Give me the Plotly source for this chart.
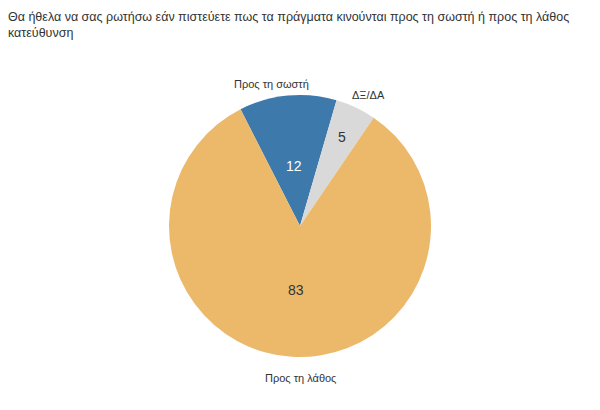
import math
import plotly.graph_objects as go

labels = ["Προς τη σωστή", "ΔΞ/ΔΑ", "Προς τη λάθος"]
values = [12, 5, 83]
colors = ["#3d7aab", "#d9d9d9", "#ecb96b"]
value_text_colors = ["#ffffff", "#333333", "#333333"]

title = ("Θα ήθελα να σας ρωτήσω εάν πιστεύετε πως τα πράγματα κινούνται προς τη σωστή ή προς τη λάθος"
         "<br>κατεύθυνση")

FONT = "Liberation Sans, Arial, sans-serif"
ROTATION = -27                 # start angle of first slice (deg, clockwise from 12 o'clock)
LABEL_R = [145, 148, 152]      # px from centre for category labels
LABEL_DA = [-5.8, 2.2, -3.6]   # angular nudge of category labels (deg)
VALUE_R = [60, 98, 64]         # px from centre for value labels

fig = go.Figure()
fig.add_trace(go.Pie(
    labels=labels, values=values, sort=False, direction="clockwise", rotation=ROTATION,
    domain=dict(x=[0, 1], y=[0, 1]),
    marker=dict(colors=colors, line=dict(width=0)),
    textinfo="none", hoverinfo="label+value", showlegend=False,
))

total = sum(values)
cum = 0
for lab, val, tc, lr, da, vr in zip(labels, values, value_text_colors, LABEL_R, LABEL_DA, VALUE_R):
    mid_deg = ROTATION + 360 * (cum + val / 2) / total
    cum += val
    mid = math.radians(mid_deg)
    la = math.radians(mid_deg + da)
    fig.add_annotation(x=0.5, y=0.5, xref="paper", yref="paper", showarrow=False,
                       text=lab, xshift=lr * math.sin(la), yshift=lr * math.cos(la),
                       font=dict(size=11, color="#333333", family=FONT))
    fig.add_annotation(x=0.5, y=0.5, xref="paper", yref="paper", showarrow=False,
                       text=str(val), xshift=vr * math.sin(mid), yshift=vr * math.cos(mid),
                       font=dict(size=14, color=tc, family=FONT))

fig.update_layout(
    width=600, height=410,
    margin=dict(l=0, r=16, t=87, b=61),
    paper_bgcolor="white", plot_bgcolor="white",
    title=dict(text=title, x=0.0, xanchor="left", y=0.969, yanchor="middle",
               font=dict(size=12.5, color="#333333", family=FONT)),
    font=dict(family=FONT),
)
fig.write_html("out.html")
